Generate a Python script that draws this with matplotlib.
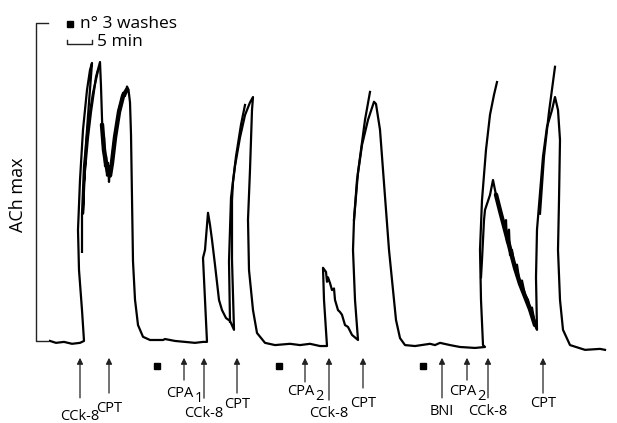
import matplotlib
matplotlib.use("Agg")
import matplotlib.pyplot as plt

plt.rcParams['font.family'] = ['Open Sans', 'DejaVu Sans']

# --- trace data: time (min) vs response (% of ACh max) ---

# main pen path
trace_t = [2.8, 4.0, 5.6, 7.2, 8.8, 9.6,
           9.2, 8.6, 8.4, 8.6, 8.8, 9.4, 10.2, 10.8, 11.2,
           10.6, 10.0, 9.4, 9.6, 10.4, 11.0, 12.0, 12.8,
           13.0, 13.2, 13.4, 13.6, 13.8, 14.0, 14.2, 14.4, 14.6, 14.8, 15.0, 15.4,
           15.8, 16.2, 16.6, 17.0, 17.4, 17.8, 18.2, 18.5, 18.8, 19.0, 19.2, 19.4,
           19.8, 20.4, 21.4, 22.8,
           25.4, 25.8, 27.8, 29.8, 31.8, 33.4, 34.2,
           33.8, 33.4, 33.8, 34.2, 34.4, 34.8, 35.2, 35.8, 36.6, 37.2, 38.0, 38.8, 39.6,
           39.2, 39.2, 39.4, 39.8, 40.8, 41.8, 42.8, 43.4, 43.2, 42.8, 42.4, 42.6, 43.4,
           44.2, 45.8, 47.8,
           50.8, 52.8, 54.8, 56.8, 58.2,
           57.6, 57.4, 58.0, 58.2, 58.4, 58.8, 59.2, 59.6, 59.8, 60.4, 60.8, 61.2, 61.8,
           62.4, 63.2, 64.4,
           63.8, 63.4, 63.6, 64.2, 65.2, 66.4, 67.6, 68.0, 68.8, 69.4, 70.0, 70.6, 71.4,
           72.0, 72.8, 73.8, 75.8,
           78.8, 79.8, 80.8, 82.8, 84.8, 87.8, 89.8,
           89.4, 89.0, 88.8, 89.2, 90.0, 90.8, 91.6, 92.2]
trace_r = [0.0, -0.6, -0.3, -0.9, -0.6, 0.0,
           9.7, 22.3, 34.9, 43.0, 50.6, 66.4, 78.9, 85.2, 87.4,
           75.0, 62.0, 40.0, 50.0, 64.0, 72.0, 83.0, 87.7,
           80.0, 70.0, 62.0, 64.0, 55.0, 58.0, 52.0, 56.0, 50.0, 55.0, 54.0, 60.0,
           65.0, 68.0, 73.0, 75.0, 78.0, 77.0, 80.0, 79.0, 75.0, 65.0, 45.0, 25.0,
           13.0, 5.0, 1.3, 0.3,
           0.3, 0.6, 0.0, -0.3, -0.6, -0.3, -0.3,
           12.9, 26.1, 28.6, 36.5, 40.3, 36.5, 31.8, 23.9, 12.9, 9.7, 7.2, 6.3, 3.5,
           25.5, 44.3, 50.0, 55.0, 64.0, 71.0, 75.0, 76.7, 72.6, 53.8, 38.1, 22.3, 9.7,
           2.5, -0.6, -1.3,
           -0.9, -1.3, -0.9, -1.6, -1.6,
           12.9, 23.0, 21.7, 18.6, 20.0, 18.2, 16.0, 16.5, 12.9, 9.7, 9.1, 8.2, 5.0,
           4.4, 1.9, 0.3,
           12.9, 28.6, 38.1, 50.6, 61.6, 69.5, 75.2, 74.5, 66.4, 53.8, 41.2, 28.6, 16.0,
           6.6, 0.9, -1.3, -1.6,
           -0.9, -1.3, -0.6, -1.3, -1.9, -2.2, -1.9,
           -1.3, 12.9, 28.6, 44.3, 60.1, 71.1, 77.4, 81.4]

# hump after CCk-8 (BNI run) and the last CPT response
late_t = [89.0, 89.2, 89.6, 89.8, 90.8, 91.4, 92.0, 92.8, 93.4, 93.8, 94.0, 94.2,
          94.6, 94.8, 95.2, 95.8, 96.2, 96.8, 97.2, 97.8, 98.4, 98.8, 99.2, 99.8, 100.2,
          100.0, 100.2, 100.8, 101.4, 102.2, 103.2, 103.8, 104.4, 104.8, 104.6, 104.4,
          104.8, 105.4, 106.8, 109.8, 112.8, 113.8]
late_r = [20.0, 25.5, 38.0, 41.2, 45.9, 50.6, 45.9, 41.2, 38.0, 34.9, 38.0, 31.0,
          35.0, 27.0, 28.6, 22.3, 24.0, 17.6, 19.0, 14.5, 12.9, 9.7, 10.5, 5.0, 3.5,
          20.0, 35.0, 46.5, 58.0, 67.3, 72.6, 76.7, 72.6, 63.2, 44.3, 28.6,
          12.9, 3.5, -1.3, -2.8, -2.5, -2.8]

# overlapping pen strands
strand1_t = [9.2, 9.2, 9.6, 10.4, 11.4, 12.4]
strand1_r = [28.0, 40.0, 55.0, 68.0, 78.0, 85.0]
strand2_t = [38.8, 38.6, 39.0, 40.0, 41.0, 41.8]
strand2_r = [6.0, 25.0, 45.0, 58.0, 68.0, 74.2]
strand3_t = [63.6, 64.4, 65.8, 66.8]
strand3_r = [38.1, 53.0, 69.5, 78.3]
strand4_t = [100.8, 101.6, 102.6, 103.8]
strand4_r = [40.0, 58.0, 72.0, 86.2]

# noisy (dense) parts of the trace
noise1_t = [13.2, 13.6, 14.0, 14.4, 14.8, 15.2, 15.8, 16.6, 17.4, 18.2]
noise1_r = [68.0, 60.0, 56.0, 53.0, 52.0, 56.0, 64.0, 72.0, 77.0, 79.0]
noise4_t = [92.0, 92.8, 93.8, 94.8, 95.8, 96.8, 97.8, 98.8, 99.8]
noise4_r = [46.0, 41.0, 35.0, 29.0, 23.0, 18.0, 14.0, 10.0, 5.0]

# --- drug additions ---
arrow_t = [8.8, 14.6, 29.6, 33.6, 40.2, 53.8, 58.6, 65.4, 81.2, 86.2, 90.4, 101.4]
arrow_end = [-17.9, -16.4, -12.3, -18.0, -16.4, -12.9, -18.6, -14.8, -17.9, -12.3, -17.9, -16.4]
labels = ['CCk-8', 'CPT', 'CPA', 'CCk-8', 'CPT', 'CPA', 'CCk-8', 'CPT', 'BNI', 'CPA', 'CCk-8', 'CPT']
label_sub = ['', '', '1', '', '', '2', '', '', '', '2', '', '']
label_base = [-24.9, -22.3, -17.6, -23.9, -21.1, -17.0, -23.9, -20.8, -23.3, -17.0, -23.3, -20.8]
wash_t = [24.2, 48.6, 77.4]

fig = plt.figure(figsize=(6.17, 4.23), dpi=100)
ax = fig.add_axes([0, 0, 1, 1])
ax.set_xlim(-7.2, 116.2)
ax.set_ylim(-25.8, 107.2)
ax.axis('off')

# trace
for t, r in [(trace_t, trace_r), (late_t, late_r), (strand1_t, strand1_r),
             (strand2_t, strand2_r), (strand3_t, strand3_r), (strand4_t, strand4_r)]:
    ax.plot(t, r, color='black', lw=1.6, solid_joinstyle='round')
for t, r in [(noise1_t, noise1_r), (noise4_t, noise4_r)]:
    ax.plot(t, r, color='black', lw=3.2, solid_joinstyle='round', solid_capstyle='round')

# ACh max bracket
ax.plot([2.4, 0, 0, 2.4], [100, 100, 0, 0], color='#222222', lw=1.0)
ax.text(-3.6, 45.9, 'ACh max', rotation=90, ha='center', va='center', fontsize=13)

# legend: washes and time scale
ax.plot([6.8], [99.7], 's', color='black', markersize=5)
ax.text(8.8, 99.7, 'n° 3 washes', ha='left', va='center', fontsize=12.5)
ax.plot([6.2, 6.2, 11.2, 11.2], [94.7, 93.4, 93.4, 94.7], color='#222222', lw=1.0)
ax.text(12.2, 94.0, '5 min', ha='left', va='center', fontsize=12.5)

# arrows and labels
for x, y0, lab, sub, yb in zip(arrow_t, arrow_end, labels, label_sub, label_base):
    ax.annotate('', xy=(x, -5.3), xytext=(x, y0),
                arrowprops=dict(arrowstyle='-|>', color='#222222', lw=0.9,
                                mutation_scale=9, shrinkA=0, shrinkB=0))
    if sub:
        ax.text(x + 1.9, yb, lab, ha='right', va='baseline', fontsize=10.5)
        ax.text(x + 2.1, yb - 1.6, sub, ha='left', va='baseline', fontsize=10.5)
    else:
        ax.text(x, yb, lab, ha='center', va='baseline', fontsize=10.5)

ax.plot(wash_t, [-7.9] * len(wash_t), 's', color='black', markersize=5)

fig.savefig('out.png', dpi=100)
